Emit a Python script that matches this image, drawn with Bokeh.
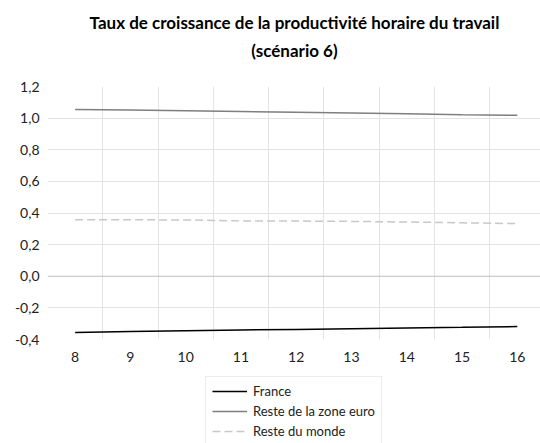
from bokeh.plotting import figure
from bokeh.layouts import column
from bokeh.models import FixedTicker, Legend, LegendItem, Span, Label
from bokeh.embed import file_html
from bokeh.resources import INLINE

years = [8, 9, 10, 11, 12, 13, 14, 15, 16]
france = [-0.355, -0.350, -0.345, -0.340, -0.336, -0.332, -0.327, -0.323, -0.318]
reste_euro = [1.055, 1.051, 1.047, 1.042, 1.037, 1.032, 1.027, 1.022, 1.018]
reste_monde = [0.357, 0.357, 0.356, 0.350, 0.349, 0.347, 0.343, 0.338, 0.333]

y_ticks = [-0.4, -0.2, 0.0, 0.2, 0.4, 0.6, 0.8, 1.0, 1.2]
y_labels = ["-0,4", "-0,2", "0,0", "0,2", "0,4", "0,6", "0,8", "1,0", "1,2"]
title_lines = ["Taux de croissance de la productivité horaire du travail", "(scénario 6)"]
series_names = ["France", "Reste de la zone euro", "Reste du monde"]

FONT = "Lato"
W = 540


def blank(height):
    f = figure(width=W, height=height, output_backend="svg", toolbar_location=None,
               x_range=(0, 1), y_range=(0, 1), min_border=0)
    f.axis.visible = False
    f.grid.grid_line_color = None
    f.outline_line_color = None
    return f


# ---- title panel
p0 = blank(76)
for txt, ypos in zip(title_lines, [54, 26]):
    p0.add_layout(Label(x=247, y=ypos, x_units="screen", y_units="screen", text=txt,
                        text_font=FONT, text_font_size="17px", text_font_style="bold",
                        text_color="#000000", text_align="center",
                        text_baseline="middle"))

# ---- main plot
p = figure(width=W, height=298, output_backend="svg", toolbar_location=None,
           x_range=(7.5, 16.42), y_range=(-0.4, 1.2),
           min_border_left=47, min_border_right=0, min_border_top=10,
           min_border_bottom=35)
p.outline_line_color = None

p.xaxis.ticker = FixedTicker(ticks=years)
p.yaxis.ticker = FixedTicker(ticks=y_ticks)
p.yaxis.major_label_overrides = {v: l for v, l in zip(y_ticks, y_labels)}
for ax in (p.xaxis[0], p.yaxis[0]):
    ax.axis_line_color = None
    ax.major_tick_line_color = None
    ax.minor_tick_line_color = None
    ax.major_label_text_font = FONT
    ax.major_label_text_font_size = "14px"
    ax.major_label_text_color = "#222222"
p.xaxis.major_label_standoff = 6
p.yaxis.major_label_standoff = 2

p.xgrid.ticker = FixedTicker(ticks=[8.5, 9.5, 10.5, 11.5, 12.5, 13.5, 14.5, 15.5])
p.xgrid.grid_line_color = "#e3e3e3"
p.ygrid.ticker = FixedTicker(ticks=[-0.2, 0.2, 0.4, 0.6, 0.8, 1.0])
p.ygrid.grid_line_color = "#e3e3e3"

p.add_layout(Span(location=0, dimension="width", line_color="#bfbfbf", line_width=1))

styles = [dict(line_color="#000000", line_width=1.5),
          dict(line_color="#7f7f7f", line_width=1.5),
          dict(line_color="#c8c8c8", line_width=1.5, line_dash="8 4")]
for ys, st in zip([france, reste_euro, reste_monde], styles):
    p.line(years, ys, **st)

# ---- legend panel (single-point proxies: draw nothing, only legend swatches)
p2 = blank(69)
items = []
for name, st in zip(series_names, styles):
    r = p2.line(x=[0.5], y=[0.5], **st)
    items.append(LegendItem(label=name, renderers=[r]))
legend = Legend(items=items, location=(158, -3), orientation="vertical",
                label_text_font=FONT, label_text_font_size="13px",
                label_text_color="#222222", glyph_width=35, glyph_height=16,
                label_height=16, spacing=4, padding=6, margin=0,
                border_line_color="#d9d9d9", label_standoff=6)
p2.add_layout(legend, "center")

layout = column(p0, p, p2, spacing=0)
open("out.html", "w").write(file_html(layout, INLINE))
